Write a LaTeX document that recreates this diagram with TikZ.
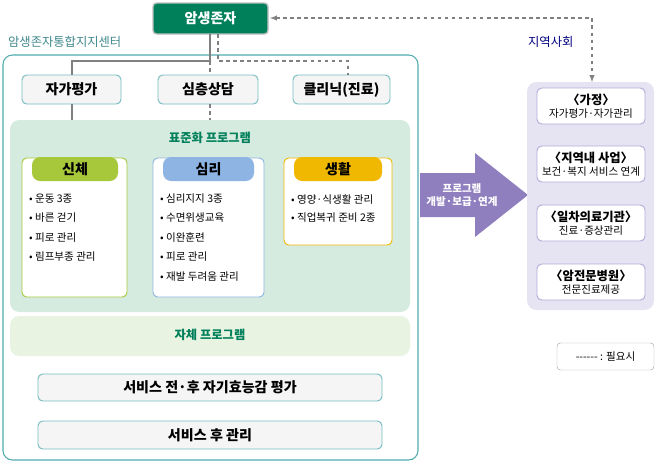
\documentclass[tikz,border=0pt]{standalone}
\usepackage{fontspec}
\setmainfont{Noto Sans CJK KR}
\usetikzlibrary{positioning}
\definecolor{dgreen}{RGB}{0,128,90}
\definecolor{teal1}{RGB}{80,170,175}
\definecolor{lgreen}{RGB}{214,235,224}
\definecolor{llgreen}{RGB}{233,243,226}
\definecolor{purp}{RGB}{143,127,191}
\definecolor{lpurp}{RGB}{230,227,242}
\definecolor{bpurp}{RGB}{180,170,215}
\definecolor{olive}{RGB}{168,200,60}
\definecolor{sky}{RGB}{141,180,226}
\definecolor{gold}{RGB}{240,184,0}
\newcommand{\fbig}{\fontsize{12}{14}\selectfont}
\newcommand{\fmid}{\fontsize{10.5}{12.5}\selectfont}
\newcommand{\fsm}{\fontsize{9}{11.5}\selectfont}
\begin{document}
\begin{tikzpicture}[
    x=0.03cm, y=-0.03cm,
    gbox/.style={draw=teal1!80, fill=gray!8, rounded corners=4pt, line width=0.8pt},
    subbox/.style={draw=#1, fill=white, rounded corners=4pt, line width=0.8pt},
    item/.style={anchor=west, font=\fsm},
    rbox/.style={draw=bpurp, fill=white, rounded corners=4pt, line width=0.8pt},
    lbl/.style={font=\fbig\bfseries},
    rlbl/.style={align=center, font=\fsm},
    solidln/.style={gray, line width=1pt},
    dashln/.style={gray, line width=1pt, dashed}
]
    \useasboundingbox (0,0) rectangle (660,462);
    % 상단
    \fill[dgreen, draw=gray!50, line width=1.2pt, rounded corners=3pt] (153,3) rectangle (268,34);
    \node[text=white, lbl] (surv) at (210.5,18.5) {암생존자};
    \node[anchor=west, text=teal1!80!black, font=\fmid] (center) at (4,42) {암생존자통합지지센터};
    \node[anchor=west, text=blue!50!black, font=\fmid] (local) at (524,42) {지역사회};
    % 센터 외곽
    \draw[teal1, line width=0.9pt, rounded corners=8pt] (3,55) rectangle (418,460);
    % 상담 박스
    \draw[gbox] (22,75) rectangle (121,104); \node[lbl] (self) at (71.5,89.5) {자가평가};
    \draw[gbox] (158,75) rectangle (258,104); \node[lbl] (deep) at (208,89.5) {심층상담};
    \draw[gbox] (293,75) rectangle (390,104); \node[lbl] (clinic) at (341.5,89.5) {클리닉(진료)};
    % 연결선
    \draw[solidln] (210,34) -- (210,61) -- (72,61) -- (72,75);
    \draw[solidln] (72,104) -- (72,120);
    \draw[dashln] (218,34) -- (218,61) -- (348,61) -- (348,75);
    \draw[dashln] (210,61) -- (210,75);
    \draw[dashln] (210,104) -- (210,120);
    % 표준화 프로그램
    \fill[lgreen, rounded corners=8pt] (10,120) rectangle (410,312);
    \node[text=dgreen, font=\fmid\bfseries] (std) at (210,138) {표준화 프로그램};
    \draw[subbox=olive] (22,158) rectangle (127,297);
    \draw[subbox=sky] (153,158) rectangle (264,297);
    \draw[subbox=gold] (284,158) rectangle (392,245);
    \fill[olive, rounded corners=7pt] (32,157) rectangle (118,181); \node[lbl] (body) at (75,169) {신체};
    \fill[sky, rounded corners=7pt] (163,157) rectangle (254,181); \node[lbl] (mind) at (208.5,169) {심리};
    \fill[gold, rounded corners=7pt] (294,157) rectangle (382,181); \node[lbl] (life) at (338,169) {생활};
    \foreach \t [count=\k] in {운동 3종, 바른 걷기, 피로 관리, 림프부종 관리}
        \node[item] (b\k) at (25,179+19.5*\k) {• \t};
    \foreach \t [count=\k] in {심리지지 3종, 수면위생교육, 이완훈련, 피로 관리, 재발 두려움 관리}
        \node[item] (m\k) at (156,179+19.5*\k) {• \t};
    \foreach \t [count=\k] in {영양·식생활 관리, 직업복귀 준비 2종}
        \node[item] (l\k) at (287,182+18*\k) {• \t};
    % 자체 프로그램
    \fill[llgreen, rounded corners=8pt] (10,316) rectangle (410,356);
    \node[text=dgreen, font=\fmid\bfseries] (own) at (210,335) {자체 프로그램};
    \draw[gbox] (38,374) rectangle (382,401); \node[lbl] (eval) at (210,387.5) {서비스 전·후 자기효능감 평가};
    \draw[gbox] (38,421) rectangle (382,449); \node[lbl] (after) at (210,435) {서비스 후 관리};
    % 화살표
    \fill[purp] (420,173) -- (475,173) -- (475,153) -- (528,195) -- (475,237) -- (475,217) -- (420,217) -- cycle;
    \node[text=white, align=center, font=\fsm\bfseries] (dev) at (462,195) {프로그램\\개발·보급·연계};
    % 지역사회
    \fill[lpurp, rounded corners=8pt] (527,82) rectangle (654,310);
    \draw[rbox] (537,88) rectangle (645,124); \node[rlbl] (home) at (591,106) {{\fmid\bfseries 〈가정〉}\\자가평가·자가관리};
    \draw[rbox] (537,146) rectangle (645,182); \node[rlbl] (biz) at (591,164) {{\fmid\bfseries 〈지역내 사업〉}\\보건·복지 서비스 연계};
    \draw[rbox] (537,205) rectangle (645,241); \node[rlbl] (prim) at (591,223) {{\fmid\bfseries 〈일차의료기관〉}\\진료·증상관리};
    \draw[rbox] (537,264) rectangle (645,300); \node[rlbl] (hosp) at (591,282) {{\fmid\bfseries 〈암전문병원〉}\\전문진료제공};
    \coordinate (corner) at (592,18);
    \draw[dashln, <->, >=latex] (270,18) -- (corner) -- (592,82);
    % 범례
    \draw[gray!70, rounded corners=3pt] (557,343) rectangle (654,370);
    \node[font=\fsm] (legend) at (605.5,356.5) {-{}-{}-{}-{}-{}- : 필요시};
\end{tikzpicture}
\end{document}
